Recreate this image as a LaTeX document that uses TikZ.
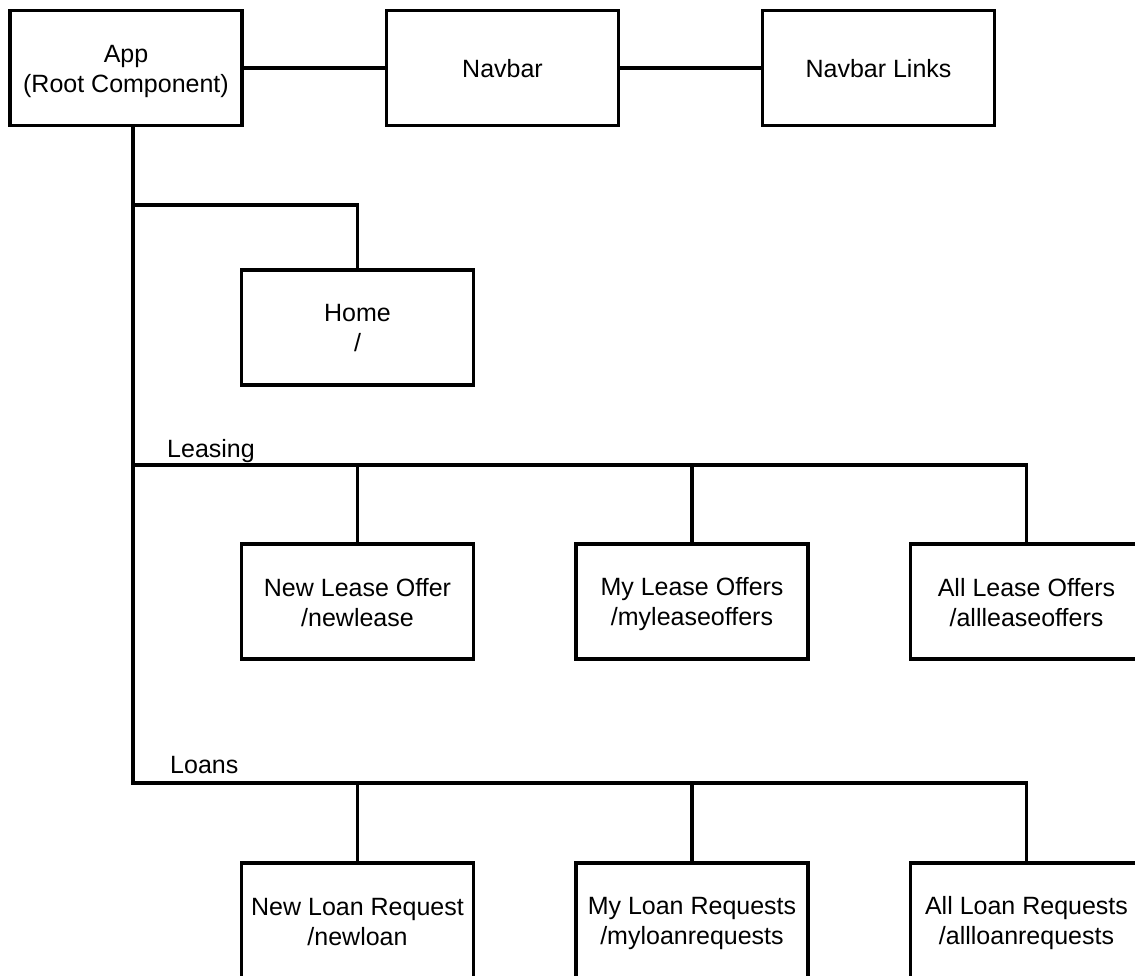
\documentclass[tikz,border=0pt]{standalone}
\usepackage{fontspec}
\setmainfont{Liberation Sans}
\newcommand{\ls}{\rule[-5pt]{0pt}{29pt}}
\begin{document}
\begin{tikzpicture}[x=1pt,y=-1pt,
  box/.style={draw, line width=3.7pt, minimum width=232pt, minimum height=115pt,
    inner sep=0pt, outer sep=0pt, align=center, font=\fontsize{25}{30}\selectfont},
  wire/.style={line width=3.8pt},
  lbl/.style={font=\fontsize{25}{30}\selectfont, inner sep=0pt, anchor=base west}]
\useasboundingbox (0,0) rectangle (1135,976);
\clip (0,0) rectangle (1135,976);
\fill[white] (0,0) rectangle (1135,976);
% top row
\node[box] (app) at (126,68) {\ls App\\\ls (Root Component)};
\node[box] (nav) at (502.5,68) {\ls Navbar};
\node[box] (links) at (878.5,68) {\ls Navbar Links};
% home
\node[box] (home) at (357.5,327.5) {\ls Home\\\ls /};
% leasing row
\node[box] (nl) at (357.5,601.5) {\ls New Lease Offer\\\ls /newlease};
\node[box] (ml) at (692,601.5) {\ls My Lease Offers\\\ls /myleaseoffers};
\node[box] (al) at (1026.5,601.5) {\ls All Lease Offers\\\ls /allleaseoffers};
% loans row
\node[box] (nr) at (357.5,920.5) {\ls New Loan Request\\\ls /newloan};
\node[box] (mr) at (692,920.5) {\ls My Loan Requests\\\ls /myloanrequests};
\node[box] (ar) at (1026.5,920.5) {\ls All Loan Requests\\\ls /allloanrequests};
% labels
\node[lbl] (leasing) at (167,457) {Leasing};
\node[lbl] (loans) at (170,773) {Loans};
% coordinates of the trunk
\coordinate (hb) at (133,205);
\coordinate (lb) at (133,465);
\coordinate (rb) at (133,783);
% connectors
\draw[wire] (app.east) -- (nav.west);
\draw[wire] (nav.east) -- (links.west);
\draw[wire] (app.south -| hb) -- (rb) -- (rb -| ar.north) -- (ar.north);
\draw[wire] (hb) -| (home.north);
\draw[wire] (lb) -- (lb -| al.north) -- (al.north);
\draw[wire] (lb -| nl.north) -- (nl.north);
\draw[wire] (lb -| ml.north) -- (ml.north);
\draw[wire] (rb -| nr.north) -- (nr.north);
\draw[wire] (rb -| mr.north) -- (mr.north);
\end{tikzpicture}
\end{document}
